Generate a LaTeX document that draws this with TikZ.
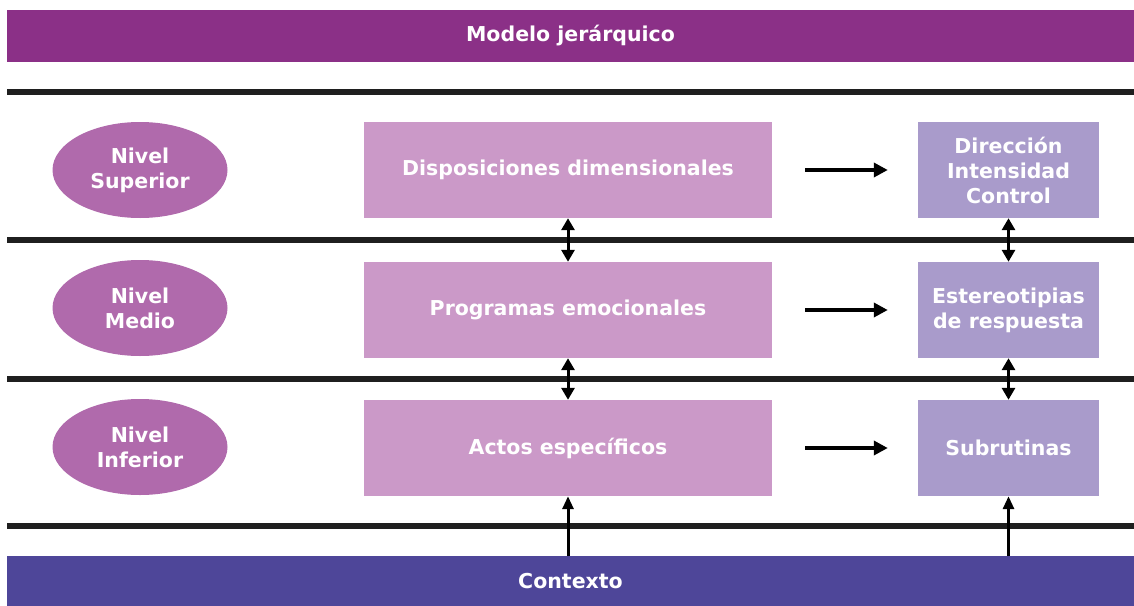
\documentclass[tikz,border=0pt]{standalone}
\usepackage{amsmath}
\usepackage{fontspec}
\setmainfont{DejaVu Sans}
\usepackage{tikz}
\usetikzlibrary{shapes,arrows,arrows.meta,positioning}

\definecolor{barTop}{RGB}{139,48,135}
\definecolor{barBot}{RGB}{78,70,153}
\definecolor{nivelC}{RGB}{176,106,172}
\definecolor{procC}{RGB}{203,153,200}
\definecolor{respC}{RGB}{169,155,203}

\begin{document}
\begin{tikzpicture}[x=1pt,y=-1pt,
	txt/.style={text=white,font=\bfseries\fontsize{20.5}{25}\selectfont,align=center,inner sep=0pt},
	bar/.style={txt,minimum width=1127pt,minimum height=52pt},
	nivel/.style={txt,ellipse,fill=nivelC,minimum width=175pt,minimum height=96pt},
	proc/.style={txt,fill=procC,minimum width=408pt,minimum height=96pt},
	resp/.style={txt,fill=respC,minimum width=181pt,minimum height=96pt},
	sep/.style={line width=6pt,black!88},
	flecha/.style={line width=3.5pt,-{Triangle[length=14pt,width=14pt]}},
	doble/.style={line width=3pt,{Triangle[length=12pt,width=13pt]}-{Triangle[length=12pt,width=13pt]}},
	sube/.style={line width=3pt,-{Triangle[length=13pt,width=11pt]}}]
	\useasboundingbox (0,0) rectangle (1134,605);

	% barras
	\node[bar,fill=barTop] (modelo) at (570.5,36) {Modelo jerárquico};
	\node[bar,fill=barBot,minimum height=50pt] (contexto) at (570.5,581) {Contexto};

	% separadores
	\foreach \y in {92,240,379,526}
		\draw[sep] (7,\y) -- (1134,\y);

	% niveles
	\node[nivel] (sup) at (140,170) {Nivel\\Superior};
	\node[nivel] (med) at (140,308) {Nivel\\Medio};
	\node[nivel] (inf) at (140,447) {Nivel\\Inferior};

	\node[proc] (disp) at (568,170) {Disposiciones dimensionales};
	\node[proc] (prog) at (568,310) {Programas emocionales};
	\node[proc] (actos) at (568,448) {Actos específicos};

	\node[resp] (dir) at (1008.5,170) {Dirección\\Intensidad\\Control};
	\node[resp] (este) at (1008.5,310) {Estereotipias\\de respuesta};
	\node[resp] (subr) at (1008.5,448) {Subrutinas};

	% flechas
	\draw[flecha] ([xshift=33pt]disp.east) -- ([xshift=-30pt]dir.west);
	\draw[flecha] ([xshift=33pt]prog.east) -- ([xshift=-30pt]este.west);
	\draw[flecha] ([xshift=33pt]actos.east) -- ([xshift=-30pt]subr.west);

	\draw[doble] (disp.south) -- (prog.north);
	\draw[doble] (prog.south) -- (actos.north);
	\draw[doble] (dir.south) -- (este.north);
	\draw[doble] (este.south) -- (subr.north);

	\draw[sube] (contexto.north -| actos.south) -- (actos.south);
	\draw[sube] (contexto.north -| subr.south) -- (subr.south);
\end{tikzpicture}
\end{document}
